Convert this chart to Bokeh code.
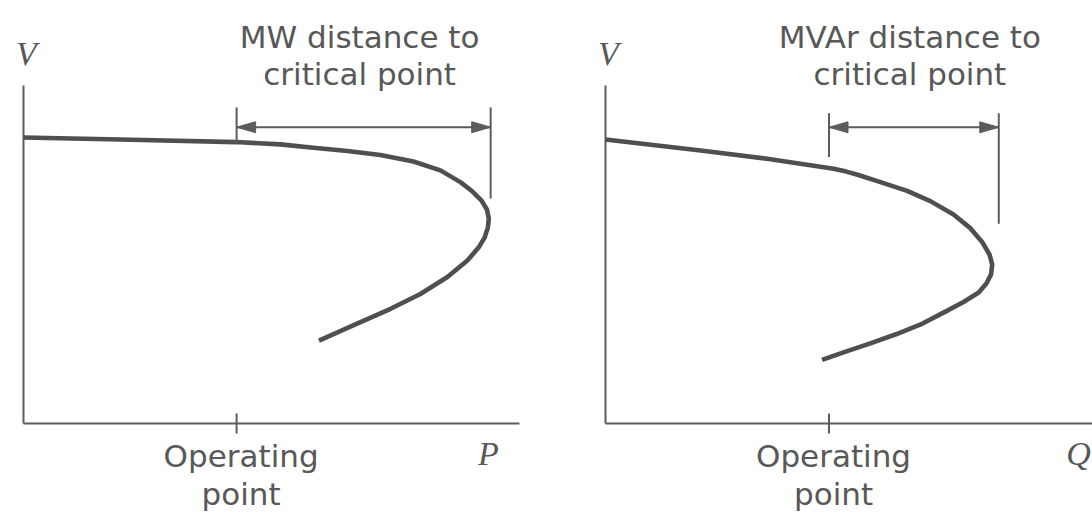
import numpy as np
from bokeh.plotting import figure
from bokeh.layouts import row
from bokeh.models import Range1d, Label
from bokeh.embed import file_html
from bokeh.resources import INLINE

# ---- P–V curve (active power margin), values in per-unit of the nose point ----
pv_p = [0.000, 0.208, 0.458, 0.552, 0.623, 0.696, 0.767, 0.838, 0.896, 0.939, 0.965, 0.984,
        0.996, 1.000, 0.998, 0.991, 0.978, 0.954, 0.911, 0.853, 0.789, 0.717, 0.635]
pv_v = [1.000, 0.993, 0.984, 0.976, 0.964, 0.953, 0.939, 0.916, 0.885, 0.844, 0.811, 0.780,
        0.748, 0.717, 0.685, 0.650, 0.615, 0.570, 0.512, 0.453, 0.401, 0.349, 0.290]
p_operating = 0.458
p_critical = 1.004

# ---- Q–V curve (reactive power margin) ----
qv_q = [0.000, 0.246, 0.418, 0.590, 0.623, 0.654, 0.711, 0.780, 0.840, 0.900, 0.944, 0.975,
        0.993, 1.000, 0.997, 0.985, 0.965, 0.926, 0.879, 0.820, 0.753, 0.685, 0.623, 0.560]
qv_v = [1.000, 0.961, 0.932, 0.897, 0.887, 0.875, 0.850, 0.819, 0.783, 0.736, 0.687, 0.637,
        0.595, 0.560, 0.525, 0.493, 0.461, 0.428, 0.394, 0.352, 0.315, 0.282, 0.254, 0.224]
q_operating = 0.578
q_critical = 1.017

# ---- texts ----
pv_title = ["MW distance to", "critical point"]
qv_title = ["MVAr distance to", "critical point"]
tick_text = ["Operating", "point"]
v_name = "V"
p_name = "P"
q_name = "Q"

CURVE = "#4f4f4f"
LINE = "#5c5c5c"
TEXT = "#585858"
SANS = "DejaVu Sans"
SERIF = "Liberation Serif"
W, H = 546, 512


def make_panel(xs, ys, op, crit, title, x_name, spec):
    # origin of the axes in panel pixels and pixels per unit
    ox, oy, sx, sy = spec["ox"], spec["oy"], spec["sx"], spec["sy"]
    p = figure(width=W, height=H,
               x_range=Range1d(-ox / sx, (W - ox) / sx),
               y_range=Range1d(-(H - oy) / sy, oy / sy),
               x_axis_location=None, y_axis_location=None,
               output_backend="svg", toolbar_location=None, min_border=0)
    p.title.visible = False
    p.grid.visible = False
    p.outline_line_color = None
    p.background_fill_color = "white"
    p.border_fill_color = "white"

    x_end = spec["x_axis_px"] / sx
    y_end = spec["y_axis_px"] / sy
    tick = 10 / sy

    # axes and the operating-point tick
    p.segment(x0=[0, 0, op], y0=[0, 0, -tick], x1=[x_end, 0, op], y1=[0, y_end, tick],
              line_width=2, line_color=LINE)

    # nose curve
    p.line(xs, ys, line_width=4.6, line_color=CURVE, line_join="round")

    # dimension lines between the operating point and the critical point
    n_upper = int(np.argmax(xs)) + 1
    v_at_op = float(np.interp(op, xs[:n_upper], ys[:n_upper]))
    left_bottom = v_at_op if spec["left_dim_bottom"] is None else spec["left_dim_bottom"]
    arrow_v = spec["arrow_v"]
    p.segment(x0=[op, crit, op], y0=[left_bottom, spec["right_dim_bottom"], arrow_v],
              x1=[op, crit, crit], y1=[spec["dim_top"], spec["dim_top"], arrow_v],
              line_width=2, line_color=LINE)

    # arrowheads (length / width in screen pixels)
    hl, hw = 19 / sx, 5.5 / sy
    p.patches(xs=[[crit, crit - hl, crit - hl], [op, op + hl, op + hl]],
              ys=[[arrow_v, arrow_v + hw, arrow_v - hw], [arrow_v, arrow_v + hw, arrow_v - hw]],
              fill_color=LINE, line_color=LINE, line_width=1)

    mid = 0.5 * (op + crit)
    for text, dy in zip(title, [90, 53]):
        p.add_layout(Label(x=mid, y=arrow_v, x_offset=-4, y_offset=dy, text=text,
                           text_font=SANS, text_font_size="31px", text_color=TEXT,
                           text_align="center", text_baseline="alphabetic"))
    for text, dy in zip(tick_text, [-32, -70]):
        p.add_layout(Label(x=op, y=0, x_offset=4.5, y_offset=dy, text=text,
                           text_font=SANS, text_font_size="31px", text_color=TEXT,
                           text_align="center", text_baseline="alphabetic"))

    p.add_layout(Label(x=0, y=y_end, x_offset=3, y_offset=32, text=v_name,
                       text_font=SERIF, text_font_style="italic", text_font_size="34px",
                       text_color=TEXT, text_align="center", text_baseline="alphabetic"))
    p.add_layout(Label(x=x_end, y=0, x_offset=spec["name_dx"], y_offset=-30,
                       text=x_name, text_font=SERIF, text_font_style="italic",
                       text_font_size="34px", text_color=TEXT, text_align="center",
                       text_baseline="alphabetic"))
    return p


left = make_panel(pv_p, pv_v, p_operating, p_critical, pv_title, p_name,
                  dict(ox=23, oy=423, sx=465.3, sy=286, x_axis_px=496, y_axis_px=338,
                       arrow_v=1.036, dim_top=1.105, left_dim_bottom=None,
                       right_dim_bottom=0.787, name_dx=-31))
right = make_panel(qv_q, qv_v, q_operating, q_critical, qv_title, q_name,
                   dict(ox=59, oy=423, sx=386.7, sy=284, x_axis_px=487, y_axis_px=338,
                        arrow_v=1.043, dim_top=1.092, left_dim_bottom=0.938,
                        right_dim_bottom=0.703, name_dx=-14))

layout = row(left, right)
open("out.html", "w").write(file_html(layout, INLINE))
